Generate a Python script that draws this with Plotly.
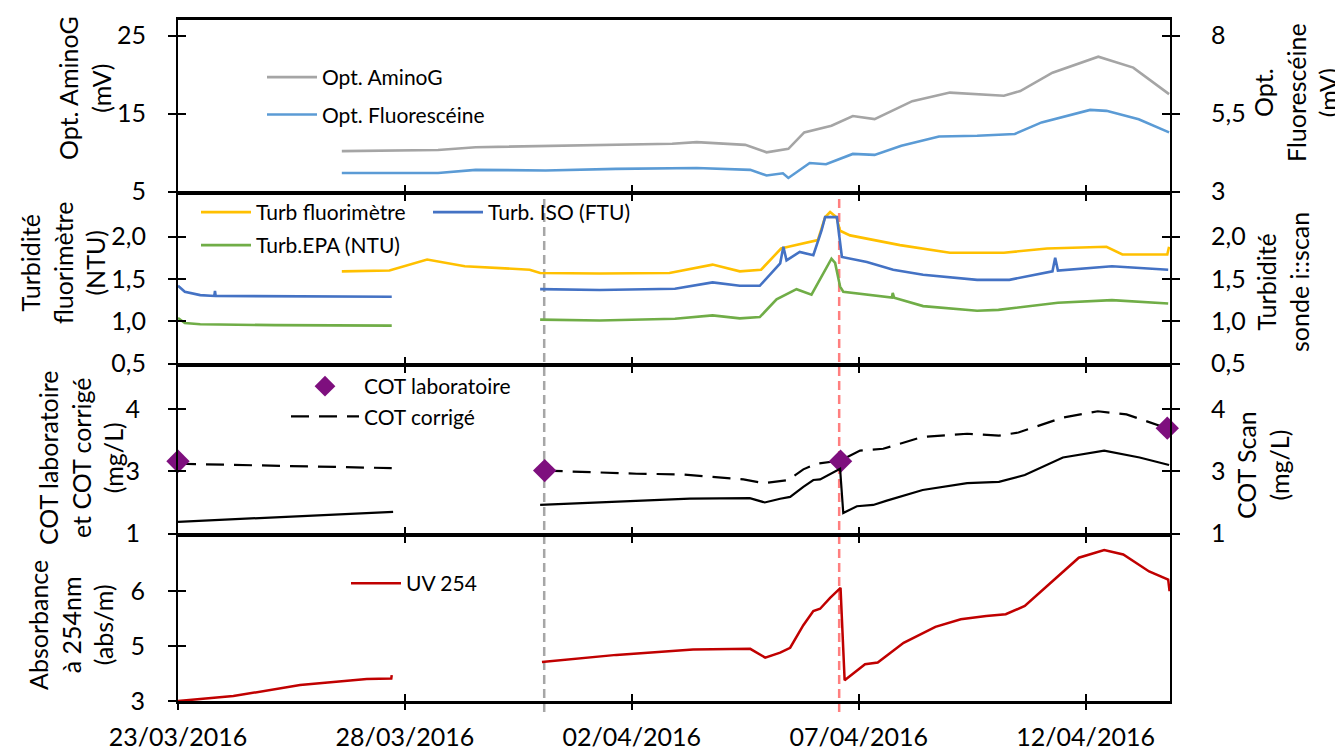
import pandas as pd
import plotly.graph_objects as go

# ---------------- DATA (time in days since 23/03/2016 00:00) ----------------
START = "2016-03-23"
X_END_DAYS = 21.86

amino_t = [3.61, 5.73, 6.56, 8.10, 9.65, 10.89, 11.43, 12.50, 12.97, 13.45, 13.80, 14.40, 14.87,
           15.35, 16.18, 17.01, 18.20, 18.56, 19.27, 20.28, 21.05, 21.84]
amino_v = [10.2, 10.35, 10.7, 10.85, 11.05, 11.15, 11.35, 11.0, 10.05, 10.5, 12.6, 13.45, 14.7,
           14.3, 16.6, 17.7, 17.3, 17.9, 20.25, 22.3, 20.9, 17.5]

fluo_t = [3.61, 5.73, 6.56, 8.10, 9.65, 10.95, 11.43, 12.61, 12.97, 13.33, 13.45, 13.92, 14.28,
          14.87, 15.35, 15.94, 16.77, 17.61, 18.44, 19.03, 20.10, 20.46, 21.17, 21.84]
fluo_v = [3.60, 3.60, 3.70, 3.68, 3.73, 3.74, 3.76, 3.70, 3.52, 3.59, 3.44, 3.92, 3.88,
          4.21, 4.18, 4.47, 4.77, 4.79, 4.85, 5.22, 5.62, 5.59, 5.32, 4.90]

turbf_t = [3.61, 4.66, 5.49, 6.32, 7.75, 7.98, 9.29, 10.83, 11.78, 12.38, 12.85, 13.29, 13.45,
           13.92, 14.10, 14.26, 14.37, 14.51, 14.59, 14.81, 15.91, 17.01, 18.20, 19.15, 20.46,
           20.81, 21.80, 21.84]
turbf_v = [1.59, 1.60, 1.73, 1.65, 1.61, 1.57, 1.565, 1.57, 1.67, 1.59, 1.61, 1.86, 1.88,
           1.94, 1.96, 2.23, 2.29, 2.23, 2.07, 2.015, 1.90, 1.81, 1.81, 1.86, 1.88,
           1.79, 1.79, 1.88]

iso_t1 = [0.0, 0.15, 0.49, 0.80, 0.815, 0.83, 4.71]
iso_v1 = [1.42, 1.35, 1.31, 1.30, 1.36, 1.30, 1.29]
iso_t2 = [7.98, 9.29, 10.95, 11.78, 12.38, 12.82, 13.27, 13.34, 13.41, 13.70, 14.00, 14.18, 14.26,
          14.52, 14.63, 15.18, 15.76, 16.42, 17.61, 18.32, 19.27, 19.33, 19.39, 20.58, 21.82]
iso_v2 = [1.38, 1.37, 1.385, 1.46, 1.42, 1.42, 1.685, 1.88, 1.72, 1.82, 1.78, 2.07, 2.23,
          2.23, 1.76, 1.70, 1.61, 1.55, 1.49, 1.49, 1.59, 1.75, 1.60, 1.65, 1.61]

epa_t1 = [0.0, 0.15, 0.49, 2.14, 4.71]
epa_v1 = [1.04, 0.98, 0.965, 0.955, 0.95]
epa_t2 = [7.98, 9.29, 10.95, 11.78, 12.38, 12.82, 13.19, 13.63, 13.96, 14.40, 14.48, 14.59, 14.66,
          15.18, 15.73, 15.75, 15.78, 16.42, 17.61, 18.08, 19.39, 20.58, 21.82]
epa_v2 = [1.02, 1.01, 1.03, 1.07, 1.035, 1.05, 1.26, 1.38, 1.315, 1.74, 1.69, 1.41, 1.35,
          1.315, 1.28, 1.335, 1.28, 1.18, 1.125, 1.136, 1.22, 1.25, 1.21]

cotlab_t = [0.0, 8.08, 14.60, 21.80]
cotlab_v = [3.16, 3.01, 3.16, 3.69]

cotc_t1 = [0.0, 4.71]
cotc_v1 = [3.12, 3.05]
cotc_t2 = [8.08, 10.11, 11.07, 12.46, 12.91, 13.45, 13.78, 14.07, 14.59, 15.03, 15.54, 16.41,
           17.39, 18.09, 18.52, 19.50, 20.27, 20.90, 21.75, 21.84]
cotc_v2 = [3.01, 2.96, 2.95, 2.87, 2.81, 2.86, 3.03, 3.12, 3.17, 3.33, 3.36, 3.55,
           3.60, 3.57, 3.62, 3.86, 3.96, 3.91, 3.70, 3.68]

cots_t1 = [0.0, 4.74]
cots_v1 = [2.19, 2.35]
cots_t2 = [7.98, 10.11, 11.28, 12.60, 12.93, 13.27, 13.49, 13.78, 14.00, 14.15, 14.37, 14.59,
           14.66, 14.96, 15.32, 15.62, 16.41, 17.39, 18.09, 18.66, 19.50, 20.41, 21.19, 21.75, 21.84]
cots_v2 = [2.46, 2.52, 2.56, 2.57, 2.50, 2.56, 2.59, 2.75, 2.86, 2.87, 2.96, 3.04,
           2.33, 2.44, 2.46, 2.53, 2.70, 2.81, 2.83, 2.94, 3.22, 3.33, 3.22, 3.11, 3.10]

uv_t1 = [0.0, 1.22, 2.69, 4.16, 4.70, 4.71]
uv_v1 = [4.00, 4.09, 4.29, 4.40, 4.41, 4.47]
uv_t2 = [8.02, 9.66, 11.35, 12.61, 12.94, 13.27, 13.49, 13.78, 14.00, 14.15, 14.37, 14.60,
         14.69, 15.14, 15.42, 15.99, 16.69, 17.25, 17.81, 18.24, 18.66, 19.22, 19.85, 20.41,
         20.83, 21.40, 21.82, 21.85]
uv_v2 = [4.71, 4.84, 4.94, 4.95, 4.79, 4.88, 4.97, 5.38, 5.64, 5.68, 5.88, 6.06,
         4.38, 4.67, 4.70, 5.06, 5.35, 5.49, 5.55, 5.58, 5.73, 6.15, 6.61, 6.75,
         6.67, 6.36, 6.21, 6.00]

event_t = [8.07, 14.57]

# tick labels
p1_left_vals, p1_left_text = [5, 15, 25], ["5", "15", "25"]
p1_right_vals, p1_right_text = [3, 5.5, 8], ["3", "5,5", "8"]
p2_vals, p2_text = [0.5, 1.0, 1.5, 2.0], ["0,5", "1,0", "1,5", "2,0"]
p3_vals, p3_text = [2, 3, 4], ["1", "3", "4"]
p4_vals, p4_text = [4, 5, 6], ["3", "5", "6"]

# ---------------- helpers ----------------
t0 = pd.Timestamp(START)


def dates(days):
    return [t0 + pd.Timedelta(days=d) for d in days]


def joined(ta, va, tb, vb):
    return dates(ta) + [None] + dates(tb), list(va) + [None] + list(vb)


# the page has an 8px body margin: figure is drawn at (8, 8)
OFF = 8
W, H = 1343 - OFF, 751 - OFF
PLEFT, PRIGHT, PTOP, PBOTTOM = 178, 1170, 20, 701          # plot area in page pixels
XLW = 2.6                                                   # horizontal border width
ML, MT = PLEFT - OFF, PTOP - OFF
MR, MB = W - (PRIGHT - OFF), H - (PBOTTOM - OFF)
PW, PH = PRIGHT - PLEFT, PBOTTOM - PTOP
bounds = [20, 193, 365, 535, 701]


def dom(k):
    top = bounds[k] + (XLW / 2 if k > 0 else 0)
    bot = bounds[k + 1] - (XLW / 2 if k < 3 else 0)
    return [(PBOTTOM - bot) / PH, (PBOTTOM - top) / PH]


def px(x):
    return (x - PLEFT) / PW


def py(y):
    return (PBOTTOM - y) / PH


FONT = "Lato"
TICKF = dict(family=FONT, size=25, color="black")
LEGF = dict(family=FONT, size=21, color="black")

fig = go.Figure()

# Panel 1
fig.add_trace(go.Scatter(x=dates(amino_t), y=amino_v, mode="lines", name="Opt. AminoG",
                         line=dict(color="#A5A5A5", width=2.6), xaxis="x", yaxis="y",
                         legend="legend", legendgroup="a"))
fig.add_trace(go.Scatter(x=dates(fluo_t), y=fluo_v, mode="lines", name="Opt. Fluorescéine",
                         line=dict(color="#5B9BD5", width=2.6), xaxis="x", yaxis="y5",
                         legend="legend", legendgroup="b"))
# Panel 2
fig.add_trace(go.Scatter(x=dates(turbf_t), y=turbf_v, mode="lines", name="Turb fluorimètre",
                         line=dict(color="#FFC000", width=2.6), xaxis="x2", yaxis="y2",
                         legend="legend2"))
xi, vi = joined(iso_t1, iso_v1, iso_t2, iso_v2)
fig.add_trace(go.Scatter(x=xi, y=vi, mode="lines", name="Turb. ISO (FTU)",
                         line=dict(color="#4472C4", width=2.6), xaxis="x2", yaxis="y6",
                         legend="legend3"))
xe, ve = joined(epa_t1, epa_v1, epa_t2, epa_v2)
fig.add_trace(go.Scatter(x=xe, y=ve, mode="lines", name="Turb.EPA (NTU)",
                         line=dict(color="#70AD47", width=2.6), xaxis="x2", yaxis="y6",
                         legend="legend4"))
# Panel 3
xs, vs = joined(cots_t1, cots_v1, cots_t2, cots_v2)
fig.add_trace(go.Scatter(x=xs, y=vs, mode="lines", name="COT Scan", showlegend=False,
                         line=dict(color="black", width=2.2), xaxis="x3", yaxis="y7"))
xc, vc = joined(cotc_t1, cotc_v1, cotc_t2, cotc_v2)
fig.add_trace(go.Scatter(x=xc, y=vc, mode="lines", name="COT corrigé",
                         line=dict(color="black", width=2.2, dash="18px,10px"),
                         xaxis="x3", yaxis="y3", legend="legend5"))
fig.add_trace(go.Scatter(x=dates(cotlab_t), y=cotlab_v, mode="markers", name="COT laboratoire",
                         marker=dict(symbol="diamond", size=18, color="#7E0F7E"),
                         cliponaxis=False, xaxis="x3", yaxis="y3", legend="legend5"))
# Panel 4
xu, vu = joined(uv_t1, uv_v1, uv_t2, uv_v2)
fig.add_trace(go.Scatter(x=xu, y=vu, mode="lines", name="UV 254",
                         line=dict(color="#C00000", width=2.5), xaxis="x4", yaxis="y4",
                         legend="legend6"))
# invisible companion on the overlay axes (for crossing ticks / date labels)
fig.add_trace(go.Scatter(x=xu, y=vu, mode="lines", showlegend=False, hoverinfo="skip",
                         line=dict(color="rgba(0,0,0,0)", width=1), xaxis="x5", yaxis="y8"))

xr = [t0, t0 + pd.Timedelta(days=X_END_DAYS)]
DT = 5 * 86400000

xbase = dict(type="date", range=xr, showgrid=False, zeroline=False, showline=True,
             linecolor="black", linewidth=XLW, ticks="inside", ticklen=7, tickwidth=2,
             tickcolor="black", tick0=START, dtick=DT, showticklabels=False)

ybase = dict(showgrid=False, zeroline=False, showline=True, linecolor="black", linewidth=2,
             ticklen=8, tickwidth=2, tickcolor="black", tickmode="array", tickfont=TICKF)

layout = dict(
    width=W, height=H, margin=dict(l=ML, r=MR, t=MT, b=MB, autoexpand=False),
    paper_bgcolor="white", plot_bgcolor="white", font=dict(family=FONT, color="black"),
    showlegend=True,
    xaxis=dict(xbase, anchor="y", domain=[0, 1], mirror=True),
    xaxis2=dict(xbase, anchor="y2", domain=[0, 1], mirror="ticks"),
    xaxis3=dict(xbase, anchor="y3", domain=[0, 1], mirror="ticks"),
    xaxis4=dict(xbase, anchor="y4", domain=[0, 1], mirror="ticks"),
    xaxis5=dict(type="date", range=xr, overlaying="x4", anchor="y4", side="bottom",
                showgrid=False, zeroline=False, showline=False, ticks="outside", ticklen=8,
                tickwidth=2, tickcolor="black", tick0=START, dtick=DT, tickformat="%d/%m/%Y",
                tickfont=TICKF, ticklabelstandoff=6),
    yaxis=dict(ybase, anchor="x", domain=dom(0), range=[5, 27], tickvals=p1_left_vals,
               ticktext=p1_left_text, ticks="inside", mirror="ticks", ticklabelstandoff=25),
    yaxis5=dict(ybase, anchor="x", overlaying="y", side="right", range=[3, 8.5],
                tickvals=p1_right_vals, ticktext=p1_right_text, ticks="outside",
                mirror="ticks", ticklabelstandoff=26),
    yaxis2=dict(ybase, anchor="x2", domain=dom(1), range=[0.5, 2.5], tickvals=p2_vals,
                ticktext=p2_text, ticks="inside", mirror="ticks", ticklabelstandoff=25),
    yaxis6=dict(ybase, anchor="x2", overlaying="y2", side="right", range=[0.5, 2.5],
                tickvals=p2_vals, ticktext=p2_text, ticks="outside", mirror="ticks",
                ticklabelstandoff=26),
    yaxis3=dict(ybase, anchor="x3", domain=dom(2), range=[2, 4.68], tickvals=p3_vals,
                ticktext=p3_text, ticks="inside", mirror="ticks", ticklabelstandoff=31),
    yaxis7=dict(ybase, anchor="x3", overlaying="y3", side="right", range=[2, 4.68],
                tickvals=p3_vals, ticktext=p3_text, ticks="outside", mirror="ticks",
                ticklabelstandoff=26),
    yaxis4=dict(ybase, anchor="x4", domain=dom(3), range=[4, 7], tickvals=p4_vals,
                ticktext=p4_text, ticks="outside", mirror=True, ticklabelstandoff=18),
    yaxis8=dict(ybase, anchor="x4", overlaying="y4", side="left", range=[4, 7],
                tickvals=p4_vals, ticktext=p4_text, ticks="inside", showline=False,
                showticklabels=False),
    legend=dict(x=px(262), y=py(57), xanchor="left", yanchor="top", font=LEGF,
                bgcolor="rgba(0,0,0,0)", itemwidth=50, tracegroupgap=7, traceorder="grouped"),
    legend2=dict(x=px(196), y=py(192), xanchor="left", yanchor="top", font=LEGF,
                 bgcolor="rgba(0,0,0,0)", itemwidth=50),
    legend3=dict(x=px(428), y=py(192), xanchor="left", yanchor="top", font=LEGF,
                 bgcolor="rgba(0,0,0,0)", itemwidth=50),
    legend4=dict(x=px(196), y=py(225), xanchor="left", yanchor="top", font=LEGF,
                 bgcolor="rgba(0,0,0,0)", itemwidth=50),
    legend5=dict(x=px(286), y=py(366), xanchor="left", yanchor="top", font=LEGF,
                 bgcolor="rgba(0,0,0,0)", itemwidth=68, traceorder="reversed"),
    legend6=dict(x=px(346), y=py(563), xanchor="left", yanchor="top", font=LEGF,
                 bgcolor="rgba(0,0,0,0)", itemwidth=50),
)
fig.update_layout(**layout)

# event lines (dashed verticals)
event_colors = ["#A6A6A6", "#FF7F7F"]
for d, col in zip(event_t, event_colors):
    xd = t0 + pd.Timedelta(days=d)
    fig.add_shape(type="line", xref="x4", yref="paper", x0=xd, x1=xd, y0=py(712), y1=py(193),
                  line=dict(color=col, width=2.5, dash="9px,5px"), layer="below")

# axis titles (rotated), centres in page pixels
titles = [
    ("Opt. AminoG<br>(mV)", 84, 88),
    ("Opt.<br>Fluorescéine<br>(mV)", 1296, 93),
    ("Turbidité<br>fluorimètre<br>(NTU)", 62, 263),
    ("Turbidité<br>sonde i::scan", 1282, 282),
    ("COT laboratoire<br>et COT corrigé<br>(mg/L)", 80, 458),
    ("COT Scan<br>(mg/L)", 1262, 465),
    ("Absorbance<br>à 254nm<br>(abs/m)", 70, 625),
]
for text, cx, cy in titles:
    fig.add_annotation(text=text, xref="paper", yref="paper", x=px(cx), y=py(cy),
                       xanchor="center", yanchor="middle", textangle=-90, showarrow=False,
                       font=dict(family=FONT, size=25, color="black"), align="center")

fig.write_html("out.html")
